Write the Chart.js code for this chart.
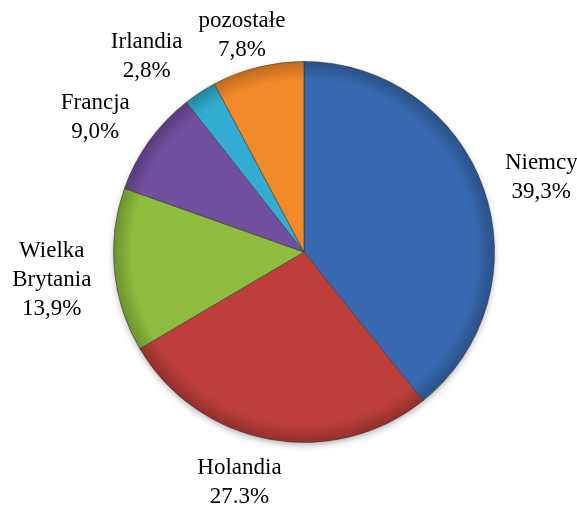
<!DOCTYPE html>
<html>
<head>
<meta charset="utf-8">
<script src="https://cdn.jsdelivr.net/npm/chart.js@4"></script>
<style>
  html, body { margin: 0; padding: 0; background: #ffffff; }
  #wrap { width: 577px; height: 505px; }
</style>
</head>
<body>
<div id="wrap"><canvas id="c" width="577" height="505"></canvas></div>
<script>
// ---- data ----
const categories = ["Niemcy", "Holandia", "Wielka Brytania", "Francja", "Irlandia", "pozostałe"];
const labelLines = [["Niemcy"], ["Holandia"], ["Wielka", "Brytania"], ["Francja"], ["Irlandia"], ["pozostałe"]];
const shares = [39.3, 27.3, 13.9, 9.0, 2.8, 7.8];
const shareLabels = ["39,3%", "27.3%", "13,9%", "9,0%", "2,8%", "7,8%"];

// ---- style ----
const sliceColors = ["#3868b0", "#bd3e3a", "#8dbc3e", "#73509f", "#32acd0", "#f08928"];
const sliceEdge   = ["#2a5188", "#922f2c", "#6c922f", "#573c7b", "#2585a1", "#bf691d"];
// label placement relative to each slice: angle shift (deg, clockwise) and distance (x radius)
const labelShift = [2.0, 5.2, -0.8, -2.8, -5.8, -2.0];
const labelDist  = [1.305, 1.258, 1.332, 1.305, 1.316, 1.18];

function sliceFill(ctx) {
  const chart = ctx.chart;
  const a = chart.chartArea;
  const i = ctx.dataIndex;
  if (!a) return sliceColors[i];
  const cx = (a.left + a.right) / 2, cy = (a.top + a.bottom) / 2;
  const r = Math.min(a.right - a.left, a.bottom - a.top) / 2;
  const g = chart.ctx.createRadialGradient(cx, cy, 0, cx, cy, r);
  g.addColorStop(0, sliceColors[i]);
  g.addColorStop(0.9, sliceColors[i]);
  g.addColorStop(1, sliceEdge[i]);
  return g;
}

const shadowPlugin = {
  id: 'pieShadow',
  beforeDatasetsDraw(chart) {
    const meta = chart.getDatasetMeta(0);
    const el = meta.data[0];
    if (!el) return;
    const p = el.getProps(['x', 'y', 'outerRadius'], true);
    const ctx = chart.ctx;
    ctx.save();
    ctx.shadowColor = 'rgba(0,0,0,0.35)';
    ctx.shadowBlur = 7;
    ctx.shadowOffsetY = 3;
    ctx.fillStyle = '#ffffff';
    ctx.beginPath();
    ctx.arc(p.x, p.y, p.outerRadius - 1, 0, Math.PI * 2);
    ctx.fill();
    ctx.restore();
  }
};

const labelPlugin = {
  id: 'sliceLabels',
  afterDatasetsDraw(chart) {
    const ctx = chart.ctx;
    const meta = chart.getDatasetMeta(0);
    ctx.save();
    ctx.fillStyle = '#000000';
    ctx.font = '23px "Liberation Serif", "Times New Roman", serif';
    ctx.textAlign = 'center';
    ctx.textBaseline = 'middle';
    const lh = 29;
    meta.data.forEach((el, i) => {
      const p = el.getProps(['x', 'y', 'startAngle', 'endAngle', 'outerRadius'], true);
      const mid = (p.startAngle + p.endAngle) / 2 + labelShift[i] * Math.PI / 180;
      const d = p.outerRadius * labelDist[i];
      const lx = p.x + Math.cos(mid) * d;
      const ly = p.y + Math.sin(mid) * d;
      const lines = labelLines[i].concat([shareLabels[i]]);
      const y0 = ly - (lines.length - 1) * lh / 2;
      lines.forEach((t, k) => ctx.fillText(t, lx, y0 + k * lh));
    });
    ctx.restore();
  }
};

new Chart(document.getElementById('c'), {
  type: 'pie',
  data: {
    labels: categories,
    datasets: [{
      data: shares,
      backgroundColor: sliceFill,
      borderColor: 'rgba(50,50,50,0.55)',
      borderWidth: 1,
      hoverOffset: 0,
      offset: 0
    }]
  },
  options: {
    responsive: false,
    animation: false,
    devicePixelRatio: 1,
    layout: { padding: { left: 113, right: 82, top: 61, bottom: 62 } },
    plugins: {
      legend: { display: false },
      tooltip: { enabled: false }
    }
  },
  plugins: [shadowPlugin, labelPlugin]
});
</script>
</body>
</html>
